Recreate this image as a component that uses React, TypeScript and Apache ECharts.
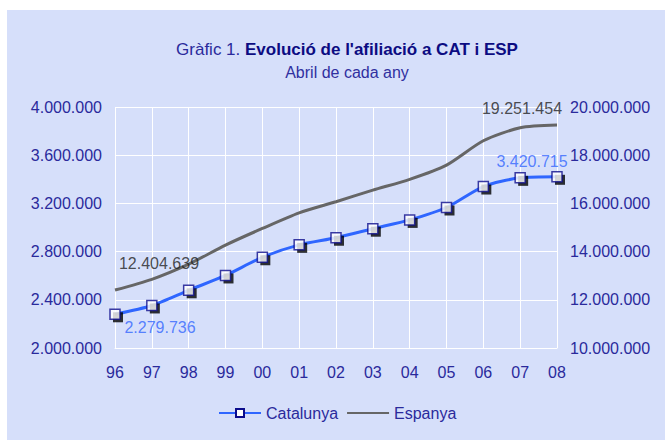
import React, { useEffect, useRef } from "react";
import * as echarts from "echarts";

const years = ["96", "97", "98", "99", "00", "01", "02", "03", "04", "05", "06", "07", "08"];
const catalunya = [2279736, 2353000, 2479000, 2602000, 2753000, 2856000, 2915000, 2990000, 3063000, 3166000, 3340000, 3412000, 3420715];
const espanya = [12404639, 12850000, 13480000, 14270000, 14960000, 15610000, 16070000, 16550000, 17000000, 17590000, 18600000, 19140000, 19251454];
const leftTicks = { min: 2000000, max: 4000000, interval: 400000 };
const rightTicks = { min: 10000000, max: 20000000, interval: 2000000 };

const fmt = (n: number) => Math.round(n).toString().replace(/\B(?=(\d{3})+(?!\d))/g, ".");

const FONT = "'Liberation Sans', Arial, sans-serif";
const NAVY = "#2a2a9c";

export default function App() {
  const ref = useRef<HTMLDivElement>(null);
  useEffect(() => {
    if (!ref.current) return;
    const chart = echarts.init(ref.current, undefined, { renderer: "svg" });
    const last = years.length - 1;
    const labelData = (arr: number[], first: any, lastCfg: any) =>
      arr.map((v, i) =>
        i === 0
          ? { value: v, label: first }
          : i === last
          ? { value: v, label: lastCfg }
          : "-"
      );
    chart.setOption({
      animation: false,
      backgroundColor: "#ffffff",
      textStyle: { fontFamily: FONT },
      graphic: [
        {
          type: "rect",
          z: -10,
          silent: true,
          shape: { x: 7, y: 10, width: 660, height: 432 },
          style: { fill: "#d6dffa" },
        },
      ],
      title: [
        {
          text: "{a|Gràfic 1. }{b|Evolució de l'afiliació a CAT i ESP}",
          left: 342,
          textAlign: "center",
          top: 36,
          textStyle: {
            fontWeight: "normal",
            rich: {
              a: { fontSize: 17, fontWeight: "normal", color: "#2a2a9c", fontFamily: FONT },
              b: { fontSize: 17, fontWeight: "bold", color: "#0c0c82", fontFamily: FONT },
            },
          },
        },
        {
          text: "Abril de cada any",
          left: 342,
          textAlign: "center",
          top: 59,
          textStyle: { fontSize: 16, fontWeight: "normal", color: "#3030a0", fontFamily: FONT },
        },
      ],
      legend: {
        data: [
          { name: "Catalunya" },
          { name: "Espanya", itemStyle: { opacity: 0 } },
        ],
        left: 213,
        top: 400,
        itemWidth: 42,
        itemHeight: 10,
        itemGap: 8,
        textStyle: { fontSize: 16, color: NAVY, fontFamily: FONT },
      },
      grid: { left: 115, right: 108, top: 107, bottom: 92 },
      xAxis: {
        type: "category",
        data: years,
        boundaryGap: false,
        axisLine: { lineStyle: { color: "#ffffff", width: 1 } },
        axisTick: { show: false },
        axisLabel: { fontSize: 16, color: NAVY, margin: 16, fontFamily: FONT },
        splitLine: { show: true, lineStyle: { color: "#ffffff", width: 1 } },
      },
      yAxis: [
        {
          type: "value",
          ...leftTicks,
          axisLine: { show: false },
          axisTick: { show: false },
          axisLabel: { fontSize: 16, color: NAVY, margin: 13, formatter: fmt, fontFamily: FONT },
          splitLine: { lineStyle: { color: "#ffffff", width: 1 } },
        },
        {
          type: "value",
          ...rightTicks,
          axisLine: { show: false },
          axisTick: { show: false },
          axisLabel: { fontSize: 16, color: NAVY, margin: 13, formatter: fmt, fontFamily: FONT },
          splitLine: { show: false },
        },
      ],
      series: [
        {
          name: "Espanya",
          type: "line",
          yAxisIndex: 1,
          data: espanya,
          smooth: 0.25,
          symbol: "none",
          lineStyle: { color: "#666666", width: 3 },
          itemStyle: { color: "#666666" },
          z: 2,
        },
        {
          name: "Catalunya",
          type: "line",
          yAxisIndex: 0,
          data: catalunya,
          smooth: 0.25,
          symbol: "rect",
          symbolSize: 10,
          showSymbol: false,
          lineStyle: { color: "#2f66ff", width: 3 },
          itemStyle: { color: "#ffffff", borderColor: "#0c0c8c", borderWidth: 1.5 },
          z: 3,
        },
        {
          name: "shadow",
          type: "scatter",
          yAxisIndex: 0,
          data: catalunya,
          symbol: "rect",
          symbolSize: 10,
          symbolOffset: [3, 3],
          itemStyle: { color: "#000000" },
          silent: true,
          z: 4,
        },
        {
          name: "markers",
          type: "scatter",
          yAxisIndex: 0,
          data: catalunya,
          symbol: "rect",
          symbolSize: 10,
          itemStyle: { color: "#ffffff", borderColor: "#0c0c8c", borderWidth: 1.5 },
          silent: true,
          z: 5,
        },
        {
          name: "labCat",
          type: "scatter",
          yAxisIndex: 0,
          symbolSize: 0,
          silent: true,
          z: 6,
          label: {
            show: true,
            position: "inside",
            fontSize: 16,
            color: "#3366ff",
            fontFamily: FONT,
            formatter: (p: any) => fmt(p.value),
          },
          data: labelData(
            catalunya,
            { offset: [45, 13] },
            { offset: [-25, -15] }
          ),
        },
        {
          name: "labEsp",
          type: "scatter",
          yAxisIndex: 1,
          symbolSize: 0,
          silent: true,
          z: 6,
          label: {
            show: true,
            position: "inside",
            fontSize: 16,
            color: "#222222",
            fontFamily: FONT,
            formatter: (p: any) => fmt(p.value),
          },
          data: labelData(
            espanya,
            { offset: [44, -27] },
            { offset: [-35, -17] }
          ),
        },
      ],
    });
    return () => chart.dispose();
  }, []);
  return (
    <div
      ref={ref}
      style={{ position: "absolute", left: 0, top: 0, width: 665, height: 440 }}
    />
  );
}
